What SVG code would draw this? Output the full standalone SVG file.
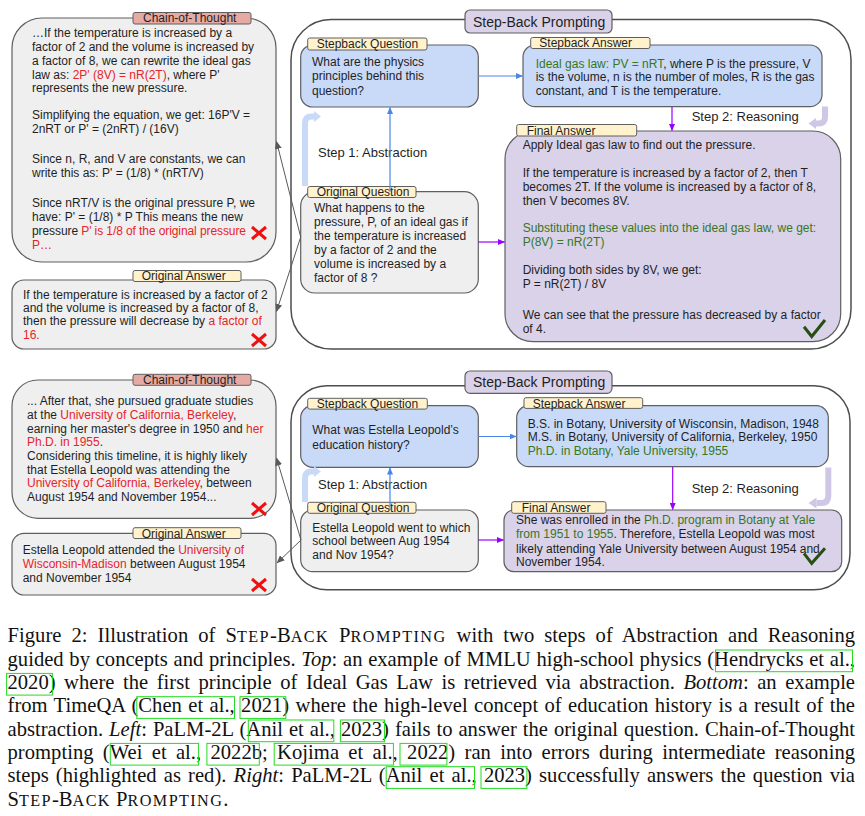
<svg xmlns="http://www.w3.org/2000/svg" width="865" height="816" viewBox="0 0 865 816">
<style>
text{font-family:"Liberation Sans",Arial,sans-serif;font-size:12px;fill:#1f1f1f}
.r{fill:#e8232a}
.g{fill:#38761d}
.lbl{font-size:13px}
.ttl{font-size:14px}
.bx{stroke:#5f5f5f;stroke-width:1.2}
.gy{fill:#efefef}
.bl{fill:#c9daf8}
.lv{fill:#d9d2e9}
.tab{fill:#fff2cc;stroke:#5f5f5f;stroke-width:1}
.ctab{fill:#e6aaa4;stroke:#5f5f5f;stroke-width:1}
.ptab{fill:#d9d2e9;stroke:#5f5f5f;stroke-width:1.2}
.cont{fill:#fff;stroke:#4d4d4d;stroke-width:1.5}
.xm{stroke:#ee1111;stroke-width:3;fill:none}
.ck{stroke:#274e13;stroke-width:3;fill:none}
.cap{font-family:"Liberation Serif","Times New Roman",serif;font-size:20.6px;fill:#111}
.sc{font-size:16.2px;letter-spacing:1.4px}
.it{font-style:italic}
.cite{fill:none;stroke:#22dd22;stroke-width:1}
.cg{stroke:#595959;stroke-width:1;fill:none}
.cb{stroke:#4a86e8;stroke-width:1.2;fill:none}
.cp{stroke:#9900ff;stroke-width:1.2;fill:none}
.thb{stroke:#c9daf8;stroke-width:6;fill:none}
.thl{stroke:#d0c7e6;stroke-width:6;fill:none}
</style>
<defs>
<marker id="ag" markerUnits="userSpaceOnUse" markerWidth="8" markerHeight="7" refX="7.5" refY="3.5" orient="auto"><path d="M0,0 L8,3.5 L0,7 z" fill="#595959"/></marker>
<marker id="ab" markerUnits="userSpaceOnUse" markerWidth="7" markerHeight="6" refX="6.5" refY="3" orient="auto"><path d="M0,0 L7,3 L0,6 z" fill="#4a86e8"/></marker>
<marker id="ap" markerUnits="userSpaceOnUse" markerWidth="7" markerHeight="6" refX="6.5" refY="3" orient="auto"><path d="M0,0 L7,3 L0,6 z" fill="#9900ff"/></marker>
</defs>

<!-- ===== TOP ===== -->
<g id="top-container">
<rect class="cont" x="291" y="19.5" width="560" height="329.5" rx="40"/>
<rect class="ptab" x="465" y="10" width="147" height="23" rx="5"/>
<text class="ttl" x="473" y="26.5">Step-Back Prompting</text>
</g>

<g id="top-cot">
<rect class="bx gy" x="12" y="18" width="264" height="244" rx="30"/>
<rect class="ctab" x="133" y="12.5" width="118" height="11.5" rx="2"/>
<text x="143" y="22">Chain-of-Thought</text>
<text x="32" y="37.3">…If the temperature is increased by a</text>
<text x="32" y="51.3">factor of 2 and the volume is increased by</text>
<text x="32" y="65.3">a factor of 8, we can rewrite the ideal gas</text>
<text x="32" y="78.8">law as: <tspan class="r">2P' (8V) = nR(2T)</tspan>, where P'</text>
<text x="32" y="92.3">represents the new pressure.</text>
<text x="32" y="119.3">Simplifying the equation, we get: 16P'V =</text>
<text x="32" y="133.3">2nRT or P' = (2nRT) / (16V)</text>
<text x="32" y="163.3">Since n, R, and V are constants, we can</text>
<text x="32" y="177.3">write this as: P' = (1/8) * (nRT/V)</text>
<text x="32" y="207.3">Since nRT/V is the original pressure P, we</text>
<text x="32" y="221.3">have: P' = (1/8) * P This means the new</text>
<text x="32" y="235.3" textLength="214" lengthAdjust="spacing">pressure <tspan class="r">P' is 1/8 of the original pressure</tspan></text>
<text x="32" y="249.3" class="r">P…</text>
<path class="xm" d="M252,227 L266,239 M266,227 L252,239"/>
</g>

<g id="top-original-answer">
<rect class="bx gy" x="12" y="280" width="264" height="69" rx="12"/>
<rect class="tab" x="133" y="270.5" width="108" height="11" rx="2"/>
<text x="141.7" y="280.3">Original Answer</text>
<text x="23" y="298.6">If the temperature is increased by a factor of 2</text>
<text x="23" y="312">and the volume is increased by a factor of 8,</text>
<text x="23" y="325.3">then the pressure will decrease by <tspan class="r">a factor of</tspan></text>
<text x="23" y="338.6" class="r">16.</text>
<path class="xm" d="M252,334 L266,346 M266,334 L252,346"/>
</g>

<g id="top-stepback-question">
<rect class="bx bl" x="300.7" y="45" width="177.6" height="62" rx="12"/>
<rect class="tab" x="307.7" y="38" width="119.3" height="12" rx="2"/>
<text x="316.7" y="47.7">Stepback Question</text>
<text x="312" y="66">What are the physics</text>
<text x="312" y="80.3">principles behind this</text>
<text x="312" y="95">question?</text>
</g>

<g id="top-original-question">
<rect class="bx gy" x="300.7" y="191.7" width="177.6" height="101.3" rx="14"/>
<rect class="tab" x="307.7" y="186.5" width="108.3" height="11" rx="2"/>
<text x="316.7" y="196">Original Question</text>
<text x="314" y="212.3">What happens to the</text>
<text x="314" y="226.3">pressure, P, of an ideal gas if</text>
<text x="314" y="240.3">the temperature is increased</text>
<text x="314" y="254.3">by a factor of 2 and the</text>
<text x="314" y="268.3">volume is increased by a</text>
<text x="314" y="282.3">factor of 8 ?</text>
</g>

<g id="top-stepback-answer">
<rect class="bx bl" x="523" y="45" width="299" height="61.7" rx="12"/>
<rect class="tab" x="530.7" y="37.5" width="119.3" height="11" rx="2"/>
<text x="539.3" y="46.8">Stepback Answer</text>
<text x="535.7" y="67.6"><tspan class="g">Ideal gas law: PV = nRT</tspan>, where P is the pressure, V</text>
<text x="535.7" y="81">is the volume, n is the number of moles, R is the gas</text>
<text x="535.7" y="95">constant, and T is the temperature.</text>
</g>

<g id="top-final-answer">
<rect class="bx lv" x="505" y="131" width="335.7" height="210.7" rx="28"/>
<rect class="tab" x="516.7" y="124.5" width="120" height="11.5" rx="2"/>
<text x="526.7" y="134.6">Final Answer</text>
<text x="522.7" y="149.3">Apply Ideal gas law to find out the pressure.</text>
<text x="522.7" y="177.3">If the temperature is increased by a factor of 2, then T</text>
<text x="522.7" y="191.3">becomes 2T. If the volume is increased by a factor of 8,</text>
<text x="522.7" y="205.3">then V becomes 8V.</text>
<text x="522.7" y="232.3" class="g">Substituting these values into the ideal gas law, we get:</text>
<text x="522.7" y="246.3" class="g">P(8V) = nR(2T)</text>
<text x="522.7" y="274.3">Dividing both sides by 8V, we get:</text>
<text x="522.7" y="288.3">P = nR(2T) / 8V</text>
<text x="522.7" y="319.3">We can see that the pressure has decreased by a factor</text>
<text x="522.7" y="333.3">of 4.</text>
<path class="ck" d="M804,326.7 L811.7,336.5 L825,320"/>
</g>

<g id="top-step-labels">
<text class="lbl" x="318" y="157.3">Step 1: Abstraction</text>
<text class="lbl" x="691.7" y="121.3">Step 2: Reasoning</text>
</g>

<g id="top-connectors">
<path class="thb" d="M305,186 V123 Q305,116.5 311.5,116.5 H314"/>
<path d="M321,116.5 L314,111 L314,122 z" fill="#c9daf8"/>
<path class="thl" d="M825,106.5 V117 Q825,123.5 818.5,123.5 H816"/>
<path d="M808.5,123.5 L816,118 L816,129 z" fill="#d0c7e6"/>
<line class="cb" x1="390" y1="191.7" x2="390" y2="107.5" marker-end="url(#ab)"/>
<line class="cb" x1="478.3" y1="76" x2="522.5" y2="76" marker-end="url(#ab)"/>
<line class="cp" x1="672" y1="106.7" x2="672" y2="130.5" marker-end="url(#ap)"/>
<line class="cp" x1="478.3" y1="242" x2="504.5" y2="242" marker-end="url(#ap)"/>
<line class="cg" x1="300.7" y1="237" x2="276.5" y2="141.5" marker-end="url(#ag)"/>
<line class="cg" x1="300.7" y1="237" x2="276.5" y2="311.5" marker-end="url(#ag)"/>
</g>

<!-- ===== BOTTOM ===== -->
<g id="bottom-container">
<rect class="cont" x="291" y="385.7" width="559" height="204" rx="36"/>
<rect class="ptab" x="465" y="371" width="147" height="22.3" rx="5"/>
<text class="ttl" x="473" y="387">Step-Back Prompting</text>
</g>

<g id="bottom-cot">
<rect class="bx gy" x="12" y="380" width="264" height="138.3" rx="26"/>
<rect class="ctab" x="133" y="374.3" width="118" height="11" rx="2"/>
<text x="143" y="384">Chain-of-Thought</text>
<text x="27" y="405.3">... After that, she pursued graduate studies</text>
<text x="27" y="419">at the <tspan class="r">University of California, Berkeley</tspan>,</text>
<text x="27" y="432.6">earning her master's degree in 1950 and <tspan class="r">her</tspan></text>
<text x="27" y="446.3"><tspan class="r">Ph.D. in 1955</tspan>.</text>
<text x="27" y="460">Considering this timeline, it is highly likely</text>
<text x="27" y="473.6">that Estella Leopold was attending the</text>
<text x="27" y="487.3"><tspan class="r">University of California, Berkeley</tspan>, between</text>
<text x="27" y="501">August 1954 and November 1954...</text>
<path class="xm" d="M252,503 L266,515 M266,503 L252,515"/>
</g>

<g id="bottom-original-answer">
<rect class="bx gy" x="12" y="533.3" width="264" height="61.7" rx="12"/>
<rect class="tab" x="133" y="527.7" width="108" height="10.8" rx="2"/>
<text x="141.7" y="537.5">Original Answer</text>
<text x="22.7" y="553.6">Estella Leopold attended the <tspan class="r">University of</tspan></text>
<text x="22.7" y="567.6"><tspan class="r">Wisconsin-Madison</tspan> between August 1954</text>
<text x="22.7" y="582">and November 1954</text>
<path class="xm" d="M252,579 L266,591 M266,579 L252,591"/>
</g>

<g id="bottom-stepback-question">
<rect class="bx bl" x="300.7" y="405.7" width="177.6" height="61.6" rx="12"/>
<rect class="tab" x="307.7" y="398.3" width="119.6" height="10.8" rx="2"/>
<text x="316.7" y="407.8">Stepback Question</text>
<text x="312.3" y="434.3">What was Estella Leopold’s</text>
<text x="312.3" y="448.6">education history?</text>
</g>

<g id="bottom-original-question">
<rect class="bx gy" x="300.7" y="510" width="177.6" height="61.7" rx="12"/>
<rect class="tab" x="307.7" y="502.3" width="108.3" height="11" rx="2"/>
<text x="316.7" y="512">Original Question</text>
<text x="312.3" y="531.6">Estella Leopold went to which</text>
<text x="312.3" y="545.3">school between Aug 1954</text>
<text x="312.3" y="559.3">and Nov 1954?</text>
</g>

<g id="bottom-stepback-answer">
<rect class="bx bl" x="516.7" y="405.7" width="311.6" height="61" rx="12"/>
<rect class="tab" x="524" y="397.7" width="118.7" height="10.7" rx="2"/>
<text x="532.7" y="407.6">Stepback Answer</text>
<text x="527.7" y="427.6">B.S. in Botany, University of Wisconsin, Madison, 1948</text>
<text x="527.7" y="441">M.S. in Botany, University of California, Berkeley, 1950</text>
<text x="527.7" y="455.3" class="g">Ph.D. in Botany, Yale University, 1955</text>
</g>

<g id="bottom-final-answer">
<rect class="bx lv" x="504" y="510" width="337.7" height="61.7" rx="10"/>
<rect class="tab" x="511.7" y="501.7" width="94.3" height="11.6" rx="2"/>
<text x="521.7" y="512">Final Answer</text>
<text x="516" y="524.3">She was enrolled in the <tspan class="g">Ph.D. program in Botany at Yale</tspan></text>
<text x="516" y="538.3"><tspan class="g">from 1951 to 1955</tspan>. Therefore, Estella Leopold was most</text>
<text x="516" y="552.6">likely attending Yale University between August 1954 and</text>
<text x="516" y="566">November 1954.</text>
<path class="ck" d="M804,553.3 L811.7,563.3 L825,548.3"/>
</g>

<g id="bottom-step-labels">
<text class="lbl" x="318" y="489">Step 1: Abstraction</text>
<text class="lbl" x="691.7" y="493">Step 2: Reasoning</text>
</g>

<g id="bottom-connectors">
<path class="thb" d="M305,502 V478 Q305,471.5 311.5,471.5 H314"/>
<path d="M321,471.5 L314,466 L314,477 z" fill="#c9daf8"/>
<path class="thl" d="M828.3,467.5 V496 Q828.3,503 821.3,503 H816.5"/>
<path d="M808.5,503 L816.5,497.5 L816.5,508.5 z" fill="#d0c7e6"/>
<line class="cb" x1="390" y1="510" x2="390" y2="468" marker-end="url(#ab)"/>
<line class="cb" x1="478.3" y1="436.5" x2="516.2" y2="436.5" marker-end="url(#ab)"/>
<line class="cp" x1="672.7" y1="466.7" x2="672.7" y2="509.5" marker-end="url(#ap)"/>
<line class="cp" x1="478.3" y1="540" x2="503.5" y2="540" marker-end="url(#ap)"/>
<line class="cg" x1="301" y1="540" x2="276.5" y2="458" marker-end="url(#ag)"/>
<line class="cg" x1="301" y1="540" x2="277" y2="563" marker-end="url(#ag)"/>
</g>

<!-- ===== CAPTION ===== -->
<g id="caption">
<text class="cap" x="7.5" y="642.2" word-spacing="4.8" textLength="847.5" lengthAdjust="spacing">Figure 2: Illustration of S<tspan class="sc">TEP</tspan>-B<tspan class="sc">ACK</tspan> P<tspan class="sc">ROMPTING</tspan> with two steps of Abstraction and Reasoning</text>
<text class="cap" x="7.5" y="665.5" word-spacing="0.5" textLength="847.5" lengthAdjust="spacing">guided by concepts and principles. <tspan class="it">Top</tspan>: an example of MMLU high-school physics (Hendrycks et al.,</text>
<text class="cap" x="7.5" y="688.9" word-spacing="3.4" textLength="847.5" lengthAdjust="spacing">2020) where the first principle of Ideal Gas Law is retrieved via abstraction. <tspan class="it">Bottom</tspan>: an example</text>
<text class="cap" x="7.5" y="712.2" word-spacing="1.15" textLength="847.5" lengthAdjust="spacing">from TimeQA (Chen et al., 2021) where the high-level concept of education history is a result of the</text>
<text class="cap" x="7.5" y="735.5" word-spacing="0.8" textLength="847.5" lengthAdjust="spacing">abstraction. <tspan class="it">Left</tspan>: PaLM-2L (Anil et al., 2023) fails to answer the original question. Chain-of-Thought</text>
<text class="cap" x="7.5" y="758.9" word-spacing="4.1" textLength="847.5" lengthAdjust="spacing">prompting (Wei et al., 2022b; Kojima et al., 2022) ran into errors during intermediate reasoning</text>
<text class="cap" x="7.5" y="782.2" word-spacing="2" textLength="847.5" lengthAdjust="spacing">steps (highlighted as red). <tspan class="it">Right</tspan>: PaLM-2L (Anil et al., 2023) successfully answers the question via</text>
<text class="cap" x="7.5" y="805.5">S<tspan class="sc">TEP</tspan>-B<tspan class="sc">ACK</tspan> P<tspan class="sc">ROMPTING</tspan>.</text>
<rect class="cite" x="715.5" y="650" width="137" height="21.7"/>
<rect class="cite" x="6.6" y="673.4" width="45.8" height="21.7"/>
<rect class="cite" x="136.8" y="696.7" width="97.7" height="21.7"/>
<rect class="cite" x="240" y="696.7" width="45.8" height="21.7"/>
<rect class="cite" x="248.3" y="720" width="85.5" height="21.7"/>
<rect class="cite" x="340.4" y="720" width="44.1" height="21.7"/>
<rect class="cite" x="110.3" y="743.4" width="88.3" height="21.7"/>
<rect class="cite" x="206.9" y="743.4" width="52.4" height="21.7"/>
<rect class="cite" x="274.2" y="743.4" width="119.2" height="21.7"/>
<rect class="cite" x="400" y="743.4" width="46.9" height="21.7"/>
<rect class="cite" x="386.2" y="766.7" width="88.3" height="21.7"/>
<rect class="cite" x="481" y="766.7" width="45.9" height="21.7"/>
</g>
</svg>
